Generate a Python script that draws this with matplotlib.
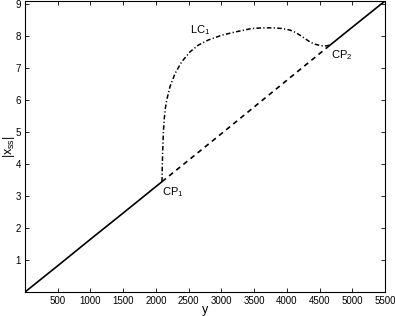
import numpy as np
import matplotlib
matplotlib.use("Agg")
import matplotlib.pyplot as plt

# equilibrium branch |x_ss| vs y
stable_lo_y = [0, 500, 1000, 1500, 2093]
stable_lo_x = [0, 0.82, 1.65, 2.47, 3.45]
unstable_y = [2093, 3000, 4000, 4660]
unstable_x = [3.45, 4.95, 6.62, 7.72]
stable_hi_y = [4660, 5000, 5500]
stable_hi_x = [7.72, 8.28, 9.1]

# limit cycle branch LC1
lc_y = [2093, 2098, 2105, 2114, 2128, 2145, 2165, 2215, 2292, 2394, 2521,
        2648, 2800, 3005, 3208, 3464, 3630, 3789, 3930, 4049, 4130, 4201,
        4280, 4354, 4430, 4507, 4570, 4609, 4660]
lc_x = [3.45, 4.0, 4.5, 5.0, 5.43, 5.75, 6.0, 6.42, 6.83, 7.2, 7.51,
        7.72, 7.88, 8.03, 8.13, 8.24, 8.26, 8.26, 8.24, 8.19, 8.12, 8.03,
        7.92, 7.82, 7.75, 7.71, 7.69, 7.70, 7.72]

xticks = [500, 1000, 1500, 2000, 2500, 3000, 3500, 4000, 4500, 5000, 5500]
yticks = [1, 2, 3, 4, 5, 6, 7, 8, 9]

plt.rcParams['font.family'] = ['Liberation Sans', 'DejaVu Sans']
plt.rcParams['mathtext.default'] = 'regular'

fig = plt.figure(figsize=(3.95, 3.16), dpi=100)
ax = fig.add_axes([25 / 395, 1 - 292 / 316, 360 / 395, 291 / 316])

ax.plot(stable_lo_y, stable_lo_x, color='black', lw=1.2, ls='-')
ax.plot(unstable_y, unstable_x, color='black', lw=1.2, ls=(0, (3, 2.5)))
ax.plot(stable_hi_y, stable_hi_x, color='black', lw=1.2, ls='-')
ax.plot(lc_y, lc_x, color='black', lw=1.1, ls=(0, (3, 1.5, 0.8, 1.5)))

ax.set_xlim(0, 5500)
ax.set_ylim(0, 9.1)
ax.set_xticks(xticks)
ax.set_yticks(yticks)
ax.tick_params(direction='in', top=True, right=True, labelsize=7, length=3,
               width=0.6, pad=3)
for s in ax.spines.values():
    s.set_linewidth(0.8)

ax.text(2093, 3.45 - 0.12, r'CP$_1$', fontsize=8, va='top', ha='left')
ax.text(4660 + 20, 7.72 - 0.1, r'CP$_2$', fontsize=8, va='top', ha='left')
ax.text(2520, 7.97, r'LC$_1$', fontsize=8, va='bottom', ha='left')

ax.set_xlabel('y', fontsize=9)
ax.set_ylabel(r'$|x_{ss}|$', fontsize=9)
ax.xaxis.set_label_coords(0.5, -0.04)
ax.yaxis.set_label_coords(-0.022, 0.5)

fig.savefig('out.png', dpi=100)
